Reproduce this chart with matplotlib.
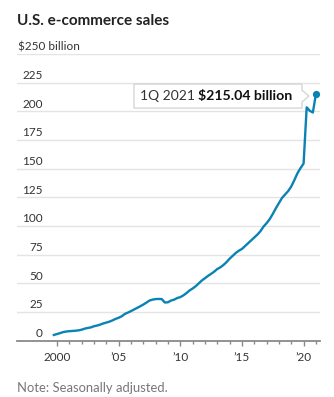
import matplotlib
matplotlib.use("Agg")
import matplotlib.pyplot as plt
import matplotlib.transforms as mtransforms
from matplotlib.patches import Polygon
import numpy as np

# ---------------- data ----------------
start_year = 1999
start_quarter = 4
sales = [
    5.0,
    5.8, 6.6, 7.5, 8.0,
    8.3, 8.5, 8.7, 9.0,
    9.6, 10.5, 11.1, 11.6,
    12.6, 13.2, 14.0, 15.0,
    15.8, 16.6, 17.7, 19.0,
    20.0, 21.3, 23.3, 24.5,
    25.8, 27.2, 28.6, 30.0,
    31.5, 33.2, 35.0, 35.8,
    36.3, 36.4, 36.3, 33.3,
    33.5, 35.0, 35.8, 37.2,
    38.0, 39.5, 41.5, 43.8,
    45.5, 47.5, 50.0, 52.5,
    54.5, 56.5, 58.3, 60.2,
    62.5, 64.0, 66.0, 68.5,
    71.5, 74.0, 76.5, 78.5,
    80.0, 82.5, 85.0, 87.5,
    90.0, 92.5, 95.5, 99.5,
    102.5, 106.0, 110.5, 115.5,
    120.0, 124.5, 127.5, 130.5,
    134.5, 140.0, 146.0, 150.5,
    154.5, 203.5, 200.5, 199.0,
    215.04,
]
y_ticks = [0, 25, 50, 75, 100, 125, 150, 175, 200, 225, 250]
x_major = [2000, 2005, 2010, 2015, 2020]
x_major_labels = ["2000", "\u201905", "\u201910", "\u201915", "\u201920"]
x_minor = list(range(2000, 2022))
title = "U.S. e-commerce sales"
unit_label = "$250 billion"
note = "Note: Seasonally adjusted."
callout_period = "1Q 2021"
callout_value = "$215.04 billion"

# quarter positions
t = [start_year + (start_quarter - 1) / 4 + i / 4 for i in range(len(sales))]

# ---------------- figure ----------------
W, H = 334, 397
DPI = 100
plt.rcParams['font.family'] = ['Lato', 'DejaVu Sans']
fig = plt.figure(figsize=(W / DPI, H / DPI), dpi=DPI)
fig.patch.set_facecolor("white")

def fx(px):
    return px / W

def fy(py):
    return 1 - py / H

ax_left, ax_right = 17, 320
ax_top, ax_bottom = 54, 340.7
ax = fig.add_axes([fx(ax_left), fy(ax_bottom), (ax_right - ax_left) / W, (ax_bottom - ax_top) / H])
ax.set_xlim(1996.76, 2021.33)
ax.set_ylim(0, 250)

LINE = "#0b82b4"
GRID = "#e4e4e4"
AXIS = "#8a8a8a"
TXT = "#333333"

for s in ["top", "right", "left"]:
    ax.spines[s].set_visible(False)
ax.spines["bottom"].set_color(AXIS)
ax.spines["bottom"].set_linewidth(1.3)

ax.set_yticks(y_ticks)
ax.yaxis.grid(True, color=GRID, linewidth=1.0)
ax.tick_params(axis="y", length=0, labelleft=False)
ax.set_axisbelow(True)

ax.set_xticks(x_major)
ax.set_xticklabels(x_major_labels)
ax.set_xticks(x_minor, minor=True)
ax.tick_params(axis="x", which="major", length=3.6, width=1.0, color=AXIS,
               labelsize=8.5, labelcolor=TXT, pad=4.5)
ax.tick_params(axis="x", which="minor", length=2.3, width=1.0, color=AXIS)

# y labels above gridlines
blend = mtransforms.blended_transform_factory(ax.transAxes, ax.transData)
lab_x = (43 - ax_left) / (ax_right - ax_left)
for v in y_ticks[:-1]:
    ax.annotate(str(v), xy=(lab_x, v), xycoords=blend, xytext=(0, 1.2),
                textcoords="offset points", ha="right", va="bottom",
                fontsize=8.5, color=TXT)
ax.annotate(unit_label, xy=(0.003, y_ticks[-1]), xycoords=blend, xytext=(0, 1.2),
            textcoords="offset points", ha="left", va="bottom",
            fontsize=8.5, color=TXT)

# line
ax.plot(t, sales, color=LINE, linewidth=1.7, solid_joinstyle="round", clip_on=False)
ax.plot([t[-1]], [sales[-1]], "o", color=LINE, markersize=4.2, clip_on=False)

# callout box
fig.canvas.draw()
px, py = ax.transData.transform((t[-1], sales[-1]))  # display coords (bottom-left origin)
tip_x, tip_y = px - 7, py - 2
bx1 = tip_x - 7
bx0 = bx1 - 168
by0, by1 = tip_y - 12, tip_y + 12
poly = Polygon([(bx0, by0), (bx1, by0), (bx1, tip_y - 6), (tip_x, tip_y),
                (bx1, tip_y + 6), (bx1, by1), (bx0, by1)], closed=True,
               transform=None, facecolor="white", edgecolor="#d6d6d6",
               linewidth=1.0, zorder=5)
fig.patches.append(poly)
fig.text((bx0 + 6) / W, (tip_y) / H, callout_period, fontsize=10, color=TXT,
         ha="left", va="center", zorder=6)
fig.text((bx0 + 64) / W, (tip_y) / H, callout_value, fontsize=10.2, color="#111111",
         fontweight="bold", ha="left", va="center", zorder=6)

# title and note
fig.text(fx(17), fy(21), title, fontsize=11, fontweight="bold", color="#222222",
         ha="left", va="center")
fig.text(fx(17), fy(388), note, fontsize=9.4, color="#777777", ha="left", va="center")

fig.savefig("out.png", dpi=DPI, facecolor="white")
